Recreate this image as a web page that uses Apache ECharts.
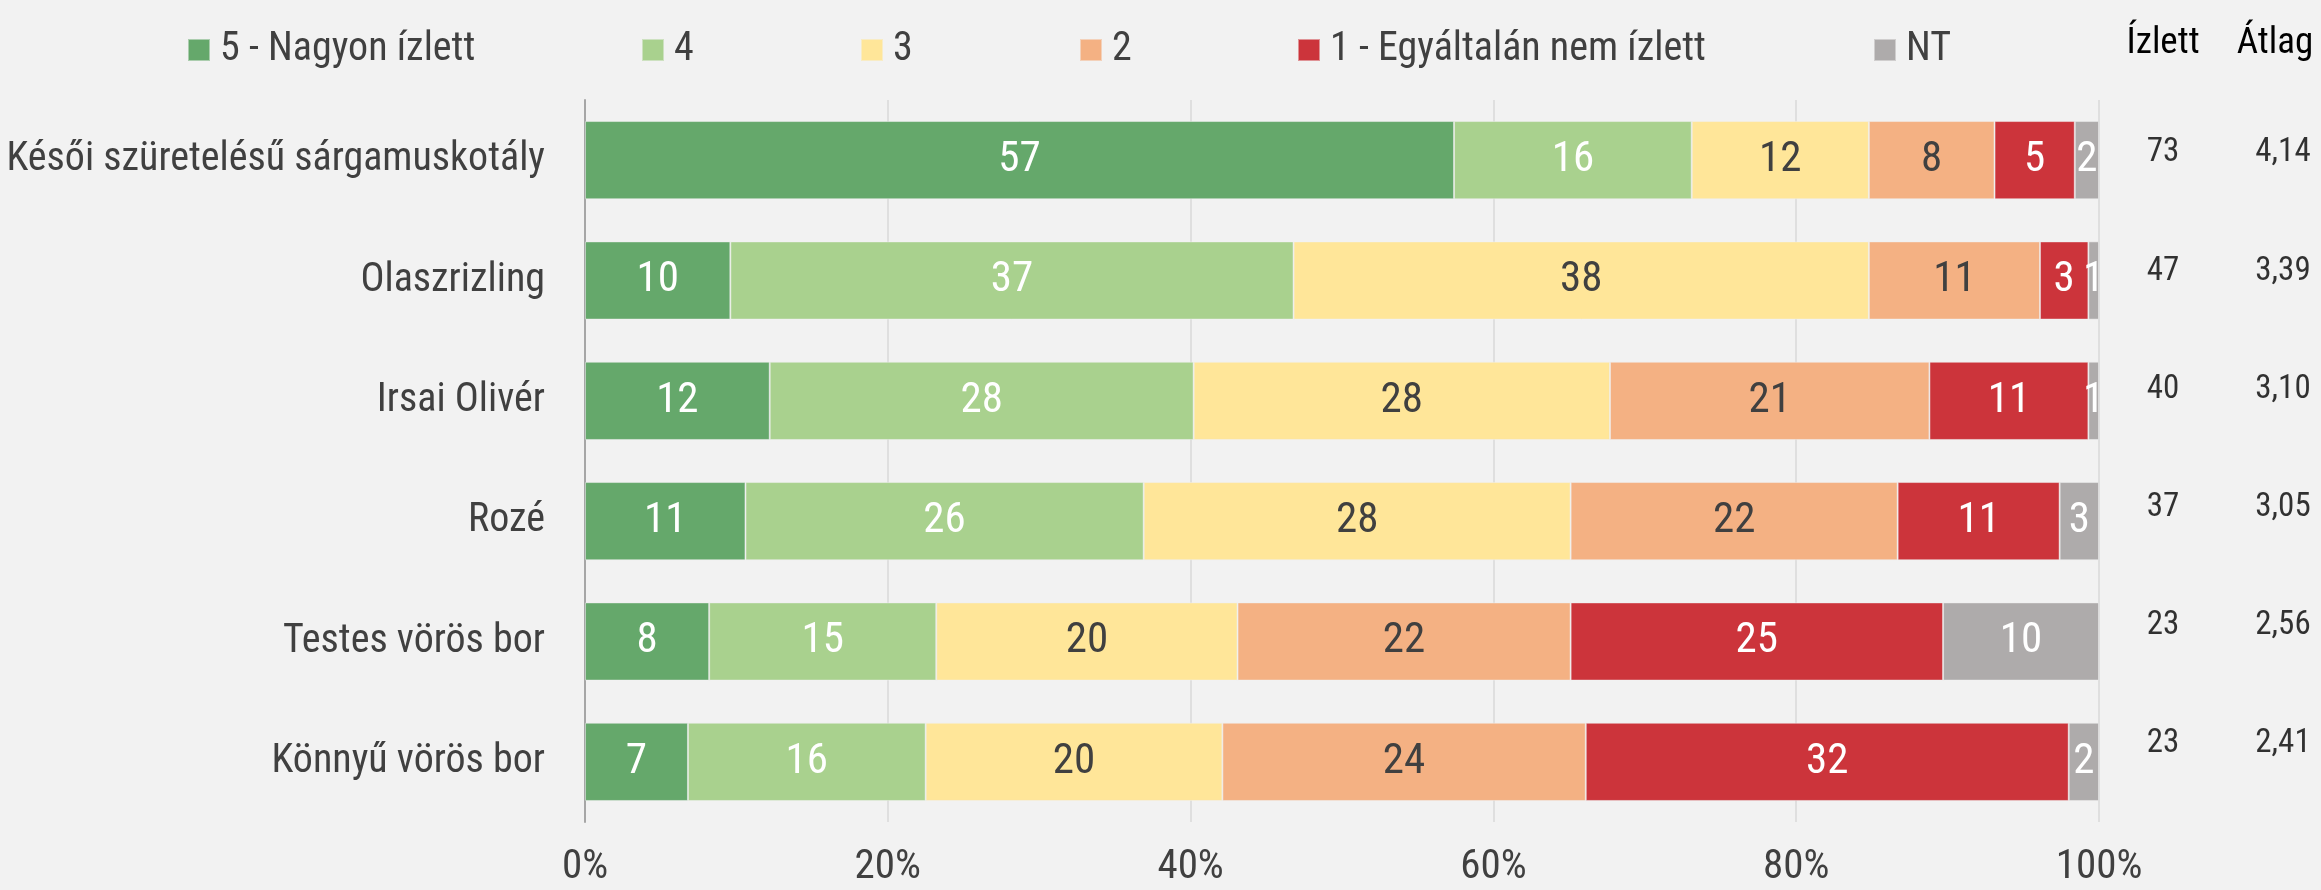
<!DOCTYPE html>
<html>
<head>
<meta charset="utf-8">
<script src="https://cdn.jsdelivr.net/npm/echarts@6/dist/echarts.min.js"></script>
<style>
  html, body { margin: 0; padding: 0; background: #f2f2f2; }
  #chart { width: 2321px; height: 890px; }
</style>
</head>
<body>
<div id="chart"></div>
<script>
// borok (kategóriák)
var categories = [
  "Késői szüretelésű sárgamuskotály",
  "Olaszrizling",
  "Irsai Olivér",
  "Rozé",
  "Testes vörös bor",
  "Könnyű vörös bor"
];
// válaszok megoszlása, % (a címkék kerekítve)
var nagyonIzlett = [57.4, 9.6, 12.2, 10.6, 8.2, 6.8];
var negyes = [15.7, 37.2, 28.0, 26.3, 15.0, 15.7];
var harmas = [11.7, 38.0, 27.5, 28.2, 19.9, 19.6];
var kettes = [8.3, 11.3, 21.1, 21.6, 22.0, 24.0];
var egyaltalanNem = [5.3, 3.2, 10.5, 10.7, 24.6, 31.9];
var nt = [1.6, 0.7, 0.7, 2.6, 10.3, 2.0];
// jobb oldali oszlopok
var izlett = [73, 47, 40, 37, 23, 23];
var atlag = [4.14, 3.39, 3.10, 3.05, 2.56, 2.41];
var xTicks = [0, 20, 40, 60, 80, 100];

var FONT = '"Liberation Sans Narrow", "Arial Narrow", "Roboto Condensed", Roboto, sans-serif';

var seriesDefs = [
  { name: "5 - Nagyon ízlett", data: nagyonIzlett, color: "#65a86b", text: "#ffffff" },
  { name: "4", data: negyes, color: "#a9d18e", text: "#ffffff" },
  { name: "3", data: harmas, color: "#ffe699", text: "#404040" },
  { name: "2", data: kettes, color: "#f4b183", text: "#404040" },
  { name: "1 - Egyáltalán nem ízlett", data: egyaltalanNem, color: "#cc343b", text: "#ffffff" },
  { name: "NT", data: nt, color: "#aeabab", text: "#ffffff" }
];
// legend x pozíciók
var legendLeft = [187, 641, 860, 1079, 1297, 1873];

var chart = echarts.init(document.getElementById("chart"));

var series = seriesDefs.map(function (s) {
  return {
    name: s.name,
    type: "bar",
    stack: "total",
    xAxisIndex: 0,
    yAxisIndex: 0,
    barCategoryGap: "35%",
    data: s.data,
    itemStyle: { color: s.color, borderColor: "rgba(242,242,242,0.5)", borderWidth: 1 },
    label: {
      show: true,
      position: "inside",
      color: s.text,
      fontFamily: FONT,
      fontSize: 43,
      formatter: function (p) { return Math.round(p.value); }
    },
    silent: true
  };
});

// Ízlett / Átlag oszlopok
series.push({
  name: "Ízlett",
  type: "scatter",
  xAxisIndex: 1,
  yAxisIndex: 1,
  symbolSize: 0,
  silent: true,
  data: izlett.map(function (v, i) { return ["Ízlett", categories[i], v]; }),
  label: {
    show: true, position: "inside",
    color: "#000", fontFamily: FONT, fontSize: 33,
    formatter: function (p) { return p.value[2]; }
  }
});
series.push({
  name: "Átlag",
  type: "scatter",
  xAxisIndex: 1,
  yAxisIndex: 1,
  symbolSize: 0,
  silent: true,
  data: atlag.map(function (v, i) { return ["Átlag", categories[i], v]; }),
  label: {
    show: true, position: "inside",
    color: "#000", fontFamily: FONT, fontSize: 33,
    formatter: function (p) { return p.value[2].toFixed(2).replace(".", ","); }
  }
});

var option = {
  backgroundColor: "#f2f2f2",
  animation: false,
  legend: seriesDefs.map(function (s, i) {
    return {
      data: [s.name],
      left: legendLeft[i],
      top: 30,
      padding: 0,
      icon: "rect",
      itemWidth: 22,
      itemHeight: 22,
      selectedMode: false,
      textStyle: { color: "#404040", fontFamily: FONT, fontSize: 40, padding: [0, 0, 0, 5] }
    };
  }),
  grid: [
    { left: 585, right: 222, top: 100, bottom: 68, outerBoundsMode: "none", containLabel: false },
    { left: 2163, right: 38, top: 94, height: 709, outerBoundsMode: "none", containLabel: false }
  ],
  xAxis: [
    {
      type: "value",
      gridIndex: 0,
      min: 0,
      max: 100,
      interval: 20,
      axisLine: { show: false },
      axisTick: { show: false },
      splitLine: { lineStyle: { color: "#d9d9d9", width: 1.5 } },
      axisLabel: {
        color: "#404040", fontFamily: FONT, fontSize: 41, margin: 25,
        formatter: "{value}%"
      }
    },
    {
      type: "category",
      gridIndex: 1,
      position: "top",
      boundaryGap: false,
      data: ["Ízlett", "Átlag"],
      axisLine: { show: false },
      axisTick: { show: false },
      splitLine: { show: false },
      axisLabel: {
        color: "#000", fontFamily: FONT, fontSize: 37, margin: 32,
        interval: 0,
        // az Átlag fejléc kicsit balra húzva, hogy ne lógjon ki
        formatter: function (v) { return v === "Átlag" ? "{r|" + v + "}" : v; },
        rich: { r: { color: "#000", fontFamily: FONT, fontSize: 37, padding: [0, 16, 0, 0] } }
      }
    }
  ],
  yAxis: [
    {
      type: "category",
      gridIndex: 0,
      inverse: true,
      data: categories,
      axisLine: { lineStyle: { color: "#a6a6a6", width: 2 } },
      axisTick: { length: 13, lineStyle: { color: "#a6a6a6", width: 2 } },
      axisLabel: { color: "#404040", fontFamily: FONT, fontSize: 40, margin: 40 }
    },
    {
      type: "category",
      gridIndex: 1,
      inverse: true,
      data: categories,
      show: false
    }
  ],
  series: series
};

chart.setOption(option);
</script>
</body>
</html>
